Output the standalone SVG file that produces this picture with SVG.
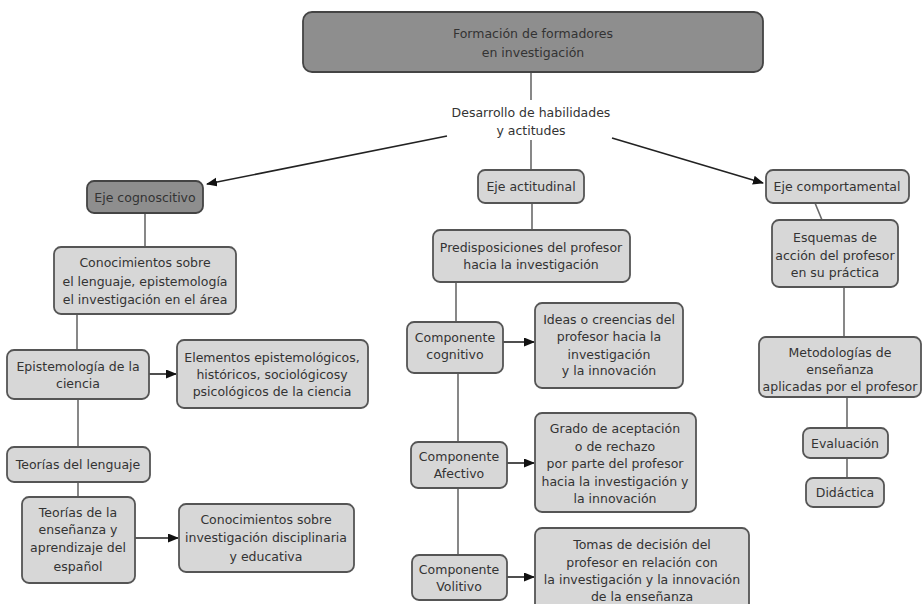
<svg xmlns="http://www.w3.org/2000/svg" width="923" height="604" viewBox="0 0 923 604">
<style>
  .n { fill: #d7d7d7; stroke: #555; stroke-width: 1.8; }
  .d { fill: #8e8e8e; stroke: #444; stroke-width: 1.8; }
  text { font-family: "DejaVu Sans", Verdana, sans-serif; font-size: 12.5px; fill: #333; text-anchor: middle; }
  .c { stroke: #6a6a6a; stroke-width: 1.6; fill: none; }
  .a { stroke: #222; stroke-width: 1.6; fill: none; marker-end: url(#ah); }
</style>
<defs>
  <marker id="ah" markerWidth="11" markerHeight="10" refX="10" refY="4.5" orient="auto" markerUnits="userSpaceOnUse">
    <path d="M0,0 L11,4.5 L0,9 z" fill="#111"/>
  </marker>
</defs>
<rect width="923" height="604" fill="#fff"/>
<g id="connectors">
  <line class="c" x1="531" y1="72" x2="531" y2="100"/>
  <line class="c" x1="531" y1="140" x2="531" y2="170"/>
  <line class="a" x1="447" y1="136" x2="207" y2="184"/>
  <line class="a" x1="612" y1="138" x2="763" y2="183"/>
  <line class="c" x1="145" y1="213" x2="145" y2="247"/>
  <line class="c" x1="77" y1="314" x2="77" y2="350"/>
  <line class="a" x1="149" y1="374" x2="176" y2="374"/>
  <line class="c" x1="78" y1="399" x2="78" y2="447"/>
  <line class="c" x1="78" y1="482" x2="78" y2="497"/>
  <line class="a" x1="135" y1="538" x2="178" y2="538"/>
  <line class="c" x1="532" y1="203" x2="532" y2="230"/>
  <line class="c" x1="456" y1="282" x2="456" y2="322"/>
  <line class="a" x1="503" y1="342" x2="534" y2="342"/>
  <line class="c" x1="458" y1="373" x2="458" y2="442"/>
  <line class="a" x1="507" y1="463" x2="534" y2="463"/>
  <line class="c" x1="458" y1="488" x2="458" y2="555"/>
  <line class="a" x1="507" y1="577" x2="534" y2="577"/>
  <line class="c" x1="815" y1="203" x2="822" y2="220"/>
  <line class="c" x1="844" y1="287" x2="844" y2="337"/>
  <line class="c" x1="847" y1="397" x2="847" y2="428"/>
  <line class="c" x1="847" y1="458" x2="847" y2="478"/>
</g>
<g id="n-top">
  <rect class="d" x="303" y="12" width="460" height="60" rx="9"/>
  <text x="533" y="38" fill="#1a1a1a">Formación de formadores</text>
  <text x="533" y="57" fill="#1a1a1a">en investigación</text>
</g>
<g id="n-desarrollo">
  <text x="531" y="117">Desarrollo de habilidades</text>
  <text x="531" y="135">y actitudes</text>
</g>
<g id="n-cognoscitivo">
  <rect class="d" x="87" y="181" width="116" height="32" rx="7"/>
  <text x="145" y="202" fill="#1a1a1a">Eje cognoscitivo</text>
</g>
<g id="n-conocimientos">
  <rect class="n" x="54" y="247" width="182" height="67" rx="7"/>
  <text x="145" y="267">Conocimientos sobre</text>
  <text x="145" y="286">el lenguaje, epistemología</text>
  <text x="145" y="304">el investigación en el área</text>
</g>
<g id="n-epistemologia">
  <rect class="n" x="7" y="350" width="142" height="49" rx="7"/>
  <text x="78" y="371">Epistemología de la</text>
  <text x="78" y="388">ciencia</text>
</g>
<g id="n-elementos">
  <rect class="n" x="177" y="340" width="191" height="68" rx="7"/>
  <text x="272" y="362">Elementos epistemológicos,</text>
  <text x="272" y="379">históricos, sociológicosy</text>
  <text x="272" y="396">psicológicos de la ciencia</text>
</g>
<g id="n-teorias-lenguaje">
  <rect class="n" x="7" y="447" width="143" height="35" rx="7"/>
  <text x="78" y="469">Teorías del lenguaje</text>
</g>
<g id="n-teorias-ensenanza">
  <rect class="n" x="22" y="497" width="113" height="86" rx="7"/>
  <text x="78" y="517">Teorías de la</text>
  <text x="78" y="534">enseñanza y</text>
  <text x="78" y="552">aprendizaje del</text>
  <text x="78" y="571">español</text>
</g>
<g id="n-conoc-investigacion">
  <rect class="n" x="179" y="504" width="175" height="68" rx="7"/>
  <text x="266" y="524">Conocimientos sobre</text>
  <text x="266" y="542">investigación disciplinaria</text>
  <text x="266" y="561">y educativa</text>
</g>
<g id="n-actitudinal">
  <rect class="n" x="478" y="170" width="106" height="33" rx="7"/>
  <text x="531" y="191">Eje actitudinal</text>
</g>
<g id="n-predisposiciones">
  <rect class="n" x="433" y="230" width="197" height="52" rx="7"/>
  <text x="531" y="252">Predisposiciones del profesor</text>
  <text x="531" y="269">hacia la investigación</text>
</g>
<g id="n-comp-cognitivo">
  <rect class="n" x="407" y="322" width="96" height="51" rx="7"/>
  <text x="455" y="342">Componente</text>
  <text x="455" y="359">cognitivo</text>
</g>
<g id="n-ideas">
  <rect class="n" x="535" y="303" width="148" height="85" rx="7"/>
  <text x="609" y="324">Ideas o creencias del</text>
  <text x="609" y="341">profesor hacia la</text>
  <text x="609" y="359">investigación</text>
  <text x="609" y="375">y la innovación</text>
</g>
<g id="n-comp-afectivo">
  <rect class="n" x="411" y="442" width="96" height="46" rx="7"/>
  <text x="459" y="461">Componente</text>
  <text x="459" y="478">Afectivo</text>
</g>
<g id="n-grado">
  <rect class="n" x="535" y="413" width="161" height="99" rx="7"/>
  <text x="615" y="433">Grado de aceptación</text>
  <text x="615" y="451">o de rechazo</text>
  <text x="615" y="468">por parte del profesor</text>
  <text x="615" y="486">hacia la investigación y</text>
  <text x="615" y="503">la innovación</text>
</g>
<g id="n-comp-volitivo">
  <rect class="n" x="412" y="555" width="95" height="45" rx="7"/>
  <text x="459" y="574">Componente</text>
  <text x="459" y="591">Volitivo</text>
</g>
<g id="n-tomas">
  <rect class="n" x="535" y="528" width="214" height="90" rx="7"/>
  <text x="642" y="549">Tomas de decisión del</text>
  <text x="642" y="567">profesor en relación con</text>
  <text x="642" y="584">la investigación y la innovación</text>
  <text x="642" y="601">de la enseñanza</text>
</g>
<g id="n-comportamental">
  <rect class="n" x="766" y="170" width="143" height="33" rx="7"/>
  <text x="837" y="191">Eje comportamental</text>
</g>
<g id="n-esquemas">
  <rect class="n" x="772" y="220" width="126" height="67" rx="7"/>
  <text x="835" y="242">Esquemas de</text>
  <text x="835" y="260">acción del profesor</text>
  <text x="835" y="277">en su práctica</text>
</g>
<g id="n-metodologias">
  <rect class="n" x="759" y="337" width="162" height="60" rx="7"/>
  <text x="840" y="357">Metodologías de</text>
  <text x="840" y="374">enseñanza</text>
  <text x="840" y="391">aplicadas por el profesor</text>
</g>
<g id="n-evaluacion">
  <rect class="n" x="803" y="428" width="85" height="30" rx="7"/>
  <text x="845" y="448">Evaluación</text>
</g>
<g id="n-didactica">
  <rect class="n" x="806" y="478" width="78" height="29" rx="7"/>
  <text x="845" y="497">Didáctica</text>
</g>
</svg>
